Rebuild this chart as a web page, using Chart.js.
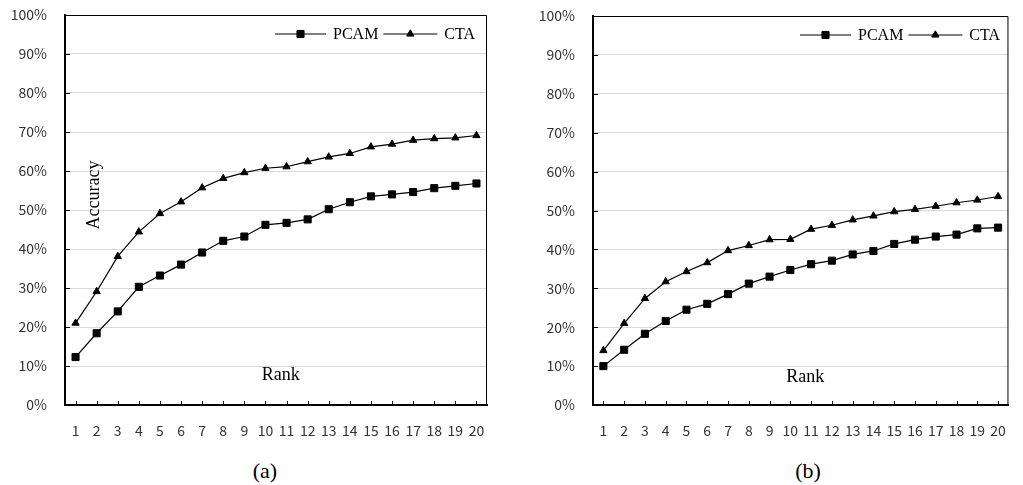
<!DOCTYPE html>
<html>
<head>
<meta charset="utf-8">
<script src="https://cdn.jsdelivr.net/npm/chart.js@4.4.0/dist/chart.umd.min.js"></script>
<style>
body { margin:0; width:1023px; height:485px; background:#fff; position:relative; overflow:hidden; }
canvas { position:absolute; top:0; }
#chartA { left:0; }
#chartB { left:520px; }
.cap { position:absolute; top:459px; width:60px; margin-left:-30px; text-align:center; font:22px "Liberation Serif", serif; line-height:24px; color:#000; }
</style>
</head>
<body>
<canvas id="chartA" width="510" height="450"></canvas>
<canvas id="chartB" width="503" height="450"></canvas>
<div class="cap" style="left:265px">(a)</div>
<div class="cap" style="left:808px">(b)</div>
<script>
// ranks on the x axis
const ranks = ["1","2","3","4","5","6","7","8","9","10","11","12","13","14","15","16","17","18","19","20"];
// (a)
const pcam_a = [12.3, 18.4, 24.0, 30.3, 33.2, 36.0, 39.1, 42.1, 43.2, 46.2, 46.7, 47.6, 50.2, 52.0, 53.5, 54.0, 54.6, 55.6, 56.2, 56.8];
const cta_a  = [21.0, 29.1, 38.1, 44.4, 49.1, 52.1, 55.7, 58.1, 59.6, 60.7, 61.1, 62.4, 63.6, 64.5, 66.2, 66.9, 67.9, 68.3, 68.5, 69.1];
// (b)
const pcam_b = [10.0, 14.2, 18.3, 21.6, 24.5, 26.0, 28.5, 31.2, 33.0, 34.7, 36.2, 37.1, 38.7, 39.6, 41.4, 42.5, 43.3, 43.8, 45.4, 45.6];
const cta_b  = [14.0, 21.0, 27.4, 31.7, 34.3, 36.6, 39.7, 41.0, 42.5, 42.6, 45.2, 46.2, 47.6, 48.6, 49.7, 50.3, 51.1, 52.0, 52.7, 53.6];
const series_names = ["PCAM", "CTA"];

const tickFont = { family: "'Noto Sans CJK KR', 'Noto Sans', sans-serif", size: 14 };
const serif = "'Liberation Serif', 'Times New Roman', serif";

// frame, inner tick marks, legend and axis words drawn inside the plot
const extras = {
    id: "extras",
    afterDraw(chart, args, opts) {
        const ctx = chart.ctx;
        const a = chart.chartArea;
        const xs = chart.scales.x;
        const ys = chart.scales.y;
        ctx.save();
        ctx.strokeStyle = "#000";
        ctx.lineWidth = 1;
        ctx.beginPath();
        ctx.moveTo(a.left, a.top + 0.5);
        ctx.lineTo(a.right - 0.5, a.top + 0.5);
        ctx.lineTo(a.right - 0.5, a.bottom);
        ctx.stroke();
        ctx.beginPath();
        for (let i = 0; i < ranks.length; i++) {
            const x = Math.round(xs.getPixelForTick(i)) + 0.5;
            ctx.moveTo(x, a.bottom);
            ctx.lineTo(x, a.bottom - 4);
        }
        ys.ticks.forEach((t, i) => {
            const y = Math.round(ys.getPixelForTick(i)) + 0.5;
            ctx.moveTo(a.left, y);
            ctx.lineTo(a.left + 5, y);
        });
        ctx.stroke();

        // legend
        const y = a.top + 19;
        let x = opts.legendX;
        ctx.font = "16px " + serif;
        ctx.fillStyle = "#000";
        ctx.textBaseline = "middle";
        chart.data.datasets.forEach((ds, i) => {
            const len = i === 0 ? 51 : 54;
            ctx.lineWidth = 1;
            ctx.beginPath();
            ctx.moveTo(x, y);
            ctx.lineTo(x + len, y);
            ctx.stroke();
            Chart.helpers.drawPoint(ctx, { pointStyle: ds.pointStyle, radius: ds.pointRadius, borderWidth: 1, rotation: 0 }, x + len / 2, y);
            ctx.fill();
            ctx.textAlign = "left";
            ctx.fillText(ds.label, x + len + 7, y + 1);
            x = x + len + 7 + ctx.measureText(ds.label).width + 5;
        });

        ctx.font = "18px " + serif;
        ctx.textAlign = "center";
        ctx.fillText("Rank", a.left + 0.511 * (a.right - a.left), a.bottom - opts.rankUp);
        if (opts.showAccuracy) {
            ctx.translate(a.left + 29, a.top + 180);
            ctx.rotate(-Math.PI / 2);
            ctx.fillText("Accuracy", 0, 0);
        }
        ctx.restore();
    }
};

function makeChart(id, pcam, cta, cfg) {
    const ctx = document.getElementById(id).getContext("2d");
    return new Chart(ctx, {
        type: "line",
        data: {
            labels: ranks,
            datasets: [{
                label: series_names[0],
                data: pcam,
                borderColor: "#000",
                backgroundColor: "#000",
                borderWidth: 1.2,
                pointStyle: "rect",
                pointRadius: 5,
                pointBorderWidth: 1,
                tension: 0
            }, {
                label: series_names[1],
                data: cta,
                borderColor: "#000",
                backgroundColor: "#000",
                borderWidth: 1.2,
                pointStyle: "triangle",
                pointRadius: 4.2,
                pointBorderWidth: 1,
                tension: 0
            }]
        },
        options: {
            responsive: false,
            animation: false,
            layout: { padding: { top: cfg.top, right: cfg.right, left: 0, bottom: 0 } },
            plugins: {
                legend: { display: false },
                tooltip: { enabled: false },
                extras: cfg
            },
            scales: {
                x: {
                    offset: true,
                    grid: { display: false, drawTicks: false },
                    border: { color: "#000", width: 2 },
                    ticks: { font: tickFont, color: "#333", padding: 17, maxRotation: 0, autoSkip: false },
                    afterFit: (s) => { s.height = 45; }
                },
                y: {
                    min: 0,
                    max: 100,
                    grid: { color: "#d9d9d9", lineWidth: 1, drawTicks: false },
                    border: { color: "#000", width: 2 },
                    ticks: { stepSize: 10, font: tickFont, color: "#333", padding: 18, callback: (v) => v + "%" },
                    afterFit: (s) => { s.width = cfg.yWidth; s.paddingTop = 0; s.paddingBottom = 0; }
                }
            }
        },
        plugins: [extras]
    });
}

makeChart("chartA", pcam_a, cta_a, { top: 15, right: 23, yWidth: 65, legendX: 275, rankUp: 30, showAccuracy: true });
makeChart("chartB", pcam_b, cta_b, { top: 16, right: 6, yWidth: 73, legendX: 280, rankUp: 28, showAccuracy: false });
</script>
</body>
</html>
